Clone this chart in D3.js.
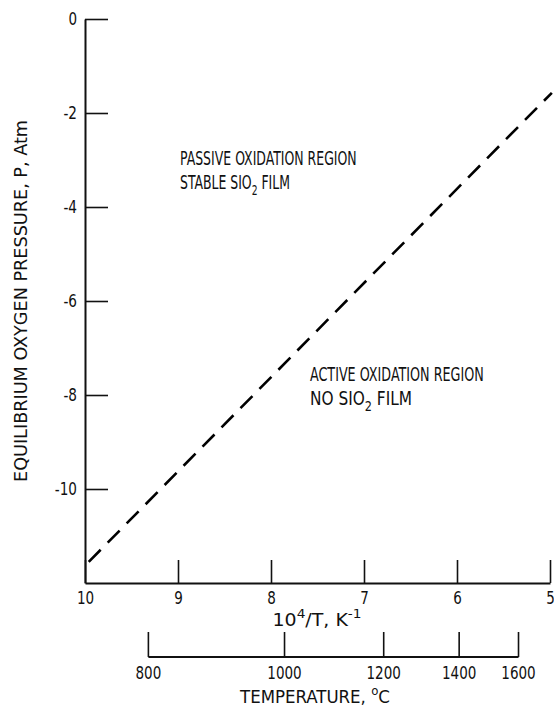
<!DOCTYPE html>
<html>
<head>
<meta charset="utf-8">
<script src="https://cdn.jsdelivr.net/npm/d3@7"></script>
<style>
  body { margin: 0; background: #fff; }
  svg text { font-family: "DejaVu Sans Condensed", "Liberation Sans Narrow", sans-serif; fill: #111; }
  .axis path, .axis line { stroke: #111; }
</style>
</head>
<body>
<div id="chart"></div>
<script>
// chart data
var invTTicks = [10, 9, 8, 7, 6, 5];          // 10^4/T, K^-1
var pTicks = [0, -2, -4, -6, -8, -10];        // log P, atm
var tempTicks = [800, 1000, 1200, 1400, 1600]; // deg C
var boundaryInvT = [9.96, 4.98];
var boundaryLogP = [-11.55, -1.57];

var svgWidth = 554;
var svgHeight = 711;

var svg = d3.select("#chart")
  .append("svg")
  .attr("width", svgWidth)
  .attr("height", svgHeight);

// narrow lettering like the original: squeeze a text horizontally
// around its anchor x so it takes the given width
function squeeze(sel, w) {
  sel.each(function(d) {
    var node = this;
    var target = typeof w === "function" ? w(d) : w;
    var len = node.getComputedTextLength();
    var x = +node.getAttribute("x") || 0;
    var k = target / len;
    var old = node.getAttribute("transform") || "";
    node.setAttribute("transform", old + " translate(" + x + ",0) scale(" + k + ",1) translate(" + (-x) + ",0)");
  });
}
function digitsWidth(s) {
  var n = 0;
  String(s).split("").forEach(function(c) { n += (c === "-") ? 5 : 8.6; });
  return n;
}

// scales
var xScale = d3.scaleLinear().domain([10, 5]).range([85, 550]);
var yScale = d3.scaleLinear().domain([0, -12]).range([19, 583]);
var tempX = function(t) { return xScale(1e4 / (t + 273.15)); };

var pFormat = function(d) { return d === 0 ? "0" : "-" + Math.abs(d); };

// y axis, ticks point inward
var yAxis = svg.append("g")
  .attr("class", "axis")
  .attr("transform", "translate(85,0)")
  .call(d3.axisLeft(yScale)
    .tickValues(pTicks)
    .tickSizeInner(-23)
    .tickSizeOuter(0)
    .tickPadding(8)
    .tickFormat(pFormat));
yAxis.select(".domain").attr("stroke-width", 2);
yAxis.selectAll(".tick line").attr("stroke-width", 1.6);
yAxis.selectAll("text").attr("font-size", "18px")
  .call(squeeze, d => digitsWidth(pFormat(d)));

// x axis (10^4/T)
var xAxis = svg.append("g")
  .attr("class", "axis")
  .attr("transform", "translate(0,583)")
  .call(d3.axisBottom(xScale)
    .tickValues(invTTicks)
    .tickSizeInner(-23)
    .tickSizeOuter(0)
    .tickPadding(8)
    .tickFormat(d3.format("d")));
xAxis.select(".domain").attr("stroke-width", 2);
xAxis.selectAll(".tick line").attr("stroke-width", 1.6);
xAxis.selectAll("text").attr("font-size", "18px")
  .call(squeeze, d => digitsWidth(d));

// x axis title with superscripts
var xTitle = svg.append("text")
  .attr("x", 317)
  .attr("y", 626)
  .attr("text-anchor", "middle")
  .attr("font-size", "18px");
xTitle.append("tspan").text("10");
xTitle.append("tspan").attr("dy", -8).attr("font-size", "13px").text("4");
xTitle.append("tspan").attr("dy", 8).text("/T, K");
xTitle.append("tspan").attr("dy", -8).attr("font-size", "13px").text("-1");
xTitle.call(squeeze, 89);

// temperature axis
var tempAxis = svg.append("g").attr("class", "axis");
tempAxis.append("line")
  .attr("x1", tempX(tempTicks[0]))
  .attr("x2", tempX(tempTicks[tempTicks.length - 1]))
  .attr("y1", 657).attr("y2", 657)
  .attr("stroke-width", 2);
tempAxis.selectAll(".tt")
  .data(tempTicks)
  .enter()
  .append("line")
  .attr("x1", d => tempX(d)).attr("x2", d => tempX(d))
  .attr("y1", 657).attr("y2", 632)
  .attr("stroke-width", 1.6);
tempAxis.selectAll("text")
  .data(tempTicks)
  .enter()
  .append("text")
  .attr("x", d => tempX(d))
  .attr("y", 679)
  .attr("text-anchor", "middle")
  .attr("font-size", "18px")
  .text(d => d)
  .call(squeeze, d => digitsWidth(d));

var tTitle = svg.append("text")
  .attr("x", 315)
  .attr("y", 703)
  .attr("text-anchor", "middle")
  .attr("font-size", "17px");
tTitle.append("tspan").text("TEMPERATURE, ");
tTitle.append("tspan").attr("dy", -8).attr("font-size", "12px").text("o");
tTitle.append("tspan").attr("dy", 8).text("C");
tTitle.call(squeeze, 150);

// y axis title
svg.append("text")
  .attr("transform", "translate(27,301) rotate(-90)")
  .attr("text-anchor", "middle")
  .attr("font-size", "18px")
  .attr("textLength", 362)
  .attr("lengthAdjust", "spacingAndGlyphs")
  .text("EQUILIBRIUM OXYGEN PRESSURE, P, Atm");

// boundary line
var line = d3.line()
  .x(d => xScale(d[0]))
  .y(d => yScale(d[1]));
svg.append("path")
  .datum(boundaryInvT.map((v, i) => [v, boundaryLogP[i]]))
  .attr("d", line)
  .attr("fill", "none")
  .attr("stroke", "#000")
  .attr("stroke-width", 2.6)
  .attr("stroke-dasharray", "17,10");

// region labels
function regionLabel(x, y, first, w1, pre, post, w2) {
  svg.append("text")
    .attr("x", x).attr("y", y)
    .attr("font-size", "19px")
    .text(first)
    .call(squeeze, w1);
  var t = svg.append("text")
    .attr("x", x).attr("y", y + 24)
    .attr("font-size", "19px");
  t.append("tspan").text(pre + "SIO");
  t.append("tspan").attr("dy", 6).attr("font-size", "14px").text("2");
  t.append("tspan").attr("dy", -6).text(" " + post);
  t.call(squeeze, w2);
}
regionLabel(180, 165, "PASSIVE OXIDATION REGION", 177, "STABLE ", "FILM", 110);
regionLabel(310, 381, "ACTIVE OXIDATION REGION", 174, "NO ", "FILM", 102);
</script>
</body>
</html>
